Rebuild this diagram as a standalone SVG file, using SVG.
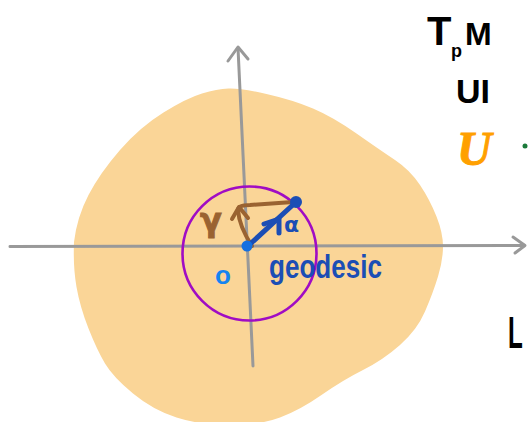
<svg xmlns="http://www.w3.org/2000/svg" width="528" height="422" viewBox="0 0 528 422">
  <style>
    .axis { stroke: #999999; stroke-width: 3; fill: none; stroke-linecap: round; stroke-linejoin: round; }
    .hand { font-family: "Liberation Sans", "DejaVu Sans", sans-serif; font-weight: bold; }
    .brown { stroke: #9A6331; stroke-width: 4; fill: none; stroke-linecap: round; stroke-linejoin: round; }
    .blue { stroke: #1B4EB5; stroke-width: 5; fill: none; stroke-linecap: round; stroke-linejoin: round; }
  </style>
  <rect width="528" height="422" fill="#ffffff"/>
  <g id="region-U">
    <path d="M 266.5,94 Q 293,100 313,108.5 Q 333,117 356.5,133.5 Q 380,150 395,160 Q 410,170 420,185 Q 430,200 436.5,216.5 Q 443,233 443,246.5 Q 443,260 438,276.5 Q 433,293 425,311.5 Q 417,330 400,345 Q 383,360 363,370 Q 343,380 321.5,395 Q 300,410 280,417.5 Q 260,425 230,425 Q 200,425 176.5,417.5 Q 153,410 133,393.5 Q 113,377 105,363.5 Q 97,350 88.5,328.5 Q 80,307 76.5,287 Q 73,267 74,242 Q 77,217 88.5,195 Q 100,173 120,150 Q 140,127 163.5,112.5 Q 187,98 202,93.5 Q 217,89 228.5,88.5 Q 240,88 266.5,94 Z" fill="#FAD597"/>
  </g>
  <g id="axes">
    <path class="axis" d="M 10,246.5 L 524,245.5"/>
    <path class="axis" d="M 513,237 L 525,245.5 L 515,253"/>
    <path class="axis" d="M 253,366 L 238,48"/>
    <path class="axis" d="M 228,61 L 238,47 L 248,59"/>
  </g>
  <g id="ball">
    <circle cx="249.5" cy="253.5" r="67" fill="none" stroke="#A00CC4" stroke-width="2.6"/>
  </g>
  <g id="connectors">
    <path class="brown" d="M 252,246 Q 239,226 238,210 Q 238,205 250,205 L 293,202"/>
    <path class="brown" d="M 232,219 L 239,207 L 248,218"/>
    <path class="blue" d="M 248,246 L 296,202"/>
    <path class="blue" d="M 264,224 L 279,219 L 279,233" stroke-width="4.5"/>
  </g>
  <g id="point-p">
    <circle cx="247" cy="246" r="5.5" fill="#1570E0"/>
  </g>
  <g id="point-end">
    <circle cx="296" cy="202" r="6" fill="#1B4EB5"/>
  </g>
  <g id="labels">
    <text x="200" y="231" font-size="32" font-weight="bold" fill="#9A6331" stroke="#9A6331" stroke-width="1" font-family="DejaVu Sans, sans-serif">γ</text>
    <text x="284" y="232" font-size="22" font-weight="bold" fill="#1B4EB5" font-family="DejaVu Sans, sans-serif">α</text>
    <text class="hand" x="215" y="284" font-size="26" fill="#1584F0">o</text>
    <text class="hand" x="269" y="278" font-size="34" fill="#1B4EB5" textLength="113" lengthAdjust="spacingAndGlyphs">geodesic</text>
  </g>
  <g id="TpM">
    <text class="hand" x="427" y="45" font-size="40" fill="#000">T</text>
    <text class="hand" x="451" y="57" font-size="18" fill="#000">p</text>
    <text class="hand" x="465" y="45" font-size="32" fill="#000">M</text>
  </g>
  <g id="subset">
    <text class="hand" x="456" y="103" font-size="34" fill="#000">UI</text>
  </g>
  <g id="U-label">
    <text x="457" y="165" font-size="48" font-style="italic" font-weight="bold" font-family="Liberation Serif, serif" fill="#FFA000" stroke="#FFA000" stroke-width="1">U</text>
  </g>
  <g id="green-mark">
    <circle cx="525" cy="146" r="2.5" fill="#1A7A3A"/>
  </g>
  <g id="L-label" transform="translate(508,348) scale(0.55,1)">
    <text class="hand" x="0" y="0" font-size="44" fill="#000">L</text>
  </g>
</svg>
